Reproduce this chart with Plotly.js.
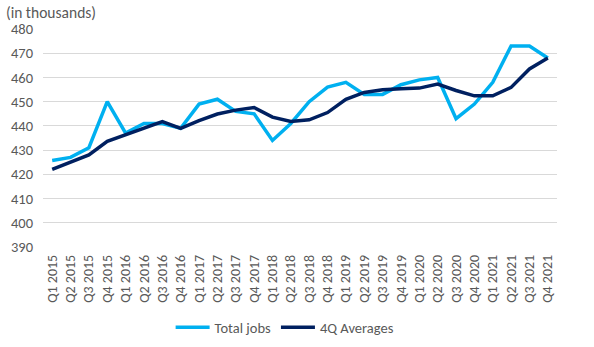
<!DOCTYPE html>
<html>
<head>
<meta charset="utf-8">
<script src="https://cdn.plot.ly/plotly-3.0.1.min.js"></script>
<style>html,body{margin:0;padding:0;background:#fff;}#chart{width:594px;height:347px;}</style>
</head>
<body>
<div id="chart"></div>
<script>
const quarters = ["Q1 2015","Q2 2015","Q3 2015","Q4 2015","Q1 2016","Q2 2016","Q3 2016","Q4 2016",
  "Q1 2017","Q2 2017","Q3 2017","Q4 2017","Q1 2018","Q2 2018","Q3 2018","Q4 2018",
  "Q1 2019","Q2 2019","Q3 2019","Q4 2019","Q1 2020","Q2 2020","Q3 2020","Q4 2020",
  "Q1 2021","Q2 2021","Q3 2021","Q4 2021"];
const totalJobs = [425.7,427,431,450,437,441,441,439,449,451,446,445,434,441,450,456,458,453,453,457,459,460,443,449,458,473,473,468];
const avg4Q = [422,425,428,433.6,436.3,439.3,441.8,439,442.2,444.9,446.5,447.6,443.6,441.8,442.5,445.5,451,453.8,454.9,455.3,455.6,457.3,454.6,452.4,452.4,455.9,463.5,468];
const yTicks = [390,400,410,420,430,440,450,460,470,480];

const font = "Calibri, Carlito, Lato, 'Open Sans', sans-serif";
const traces = [
  {x: quarters, y: totalJobs, name: "Total jobs", type: "scatter", mode: "lines",
   line: {color: "#00B0F0", width: 3.5}},
  {x: quarters, y: avg4Q, name: "4Q Averages", type: "scatter", mode: "lines",
   line: {color: "#002060", width: 3.5}}
];
const layout = {
  width: 594, height: 347,
  margin: {l: 43, r: 37, t: 29, b: 99.5},
  paper_bgcolor: "#fff", plot_bgcolor: "#fff",
  font: {family: font, color: "#595959", size: 13},
  title: {text: "(in thousands)", x: 0.01, xanchor: "left", y: 0.965, yanchor: "middle",
          font: {family: font, size: 15.5, color: "#595959"}},
  xaxis: {type: "category", tickangle: -90, showgrid: false, zeroline: false, showline: false,
          ticks: "", tickfont: {size: 14, color: "#595959"}, range: [-0.5, 27.5], fixedrange: true,
          ticklabelstandoff: 4, automargin: false},
  yaxis: {range: [390, 480], tickvals: yTicks, showgrid: true, gridcolor: "#D9D9D9", gridwidth: 1,
          zeroline: false, showline: false, ticks: "", ticklabelstandoff: 9, automargin: false,
          tickfont: {size: 14.5, color: "#595959"}},
  showlegend: true,
  legend: {orientation: "h", xref: "container", yref: "container", x: 0.48, xanchor: "center",
           y: 0.057, yanchor: "middle",
           font: {size: 14.5, color: "#595959"}, itemwidth: 34, traceorder: "normal"}
};
Plotly.newPlot("chart", traces, layout, {displayModeBar: false, staticPlot: true});
</script>
</body>
</html>
